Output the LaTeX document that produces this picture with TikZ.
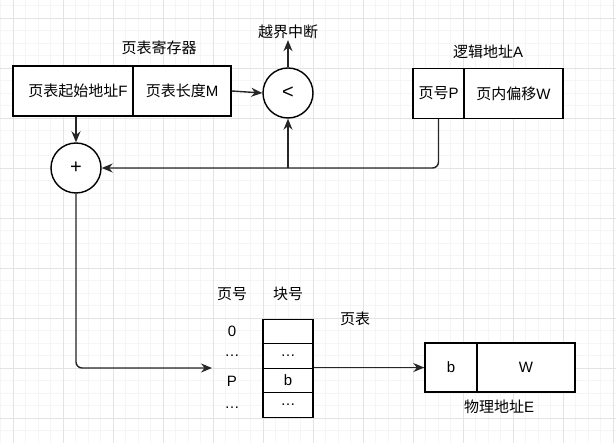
\documentclass[tikz,border=0pt]{standalone}
\usepackage{fontspec}
\setmainfont{Liberation Sans}
\newfontfamily\cjk{Noto Sans CJK SC}
\usetikzlibrary{arrows.meta}
\tikzset{
  cell/.style={draw=black, line width=1.4pt, inner sep=0pt, minimum height=50, fill=white},
  trow/.style={draw=black, line width=1.4pt, inner sep=0pt, minimum width=50, minimum height=24.5, fill=white},
  circ/.style={draw=black, line width=1.4pt, circle, minimum size=50, inner sep=0pt, fill=white},
  lbl/.style={inner sep=1pt},
  arr/.style={draw=black!85, line width=1.4pt, -{Stealth[length=11pt,width=9pt]}},
  ln/.style={draw=black!85, line width=1.4pt}
}
\begin{document}
\begin{tikzpicture}[x=1pt,y=-1pt, font=\fontsize{15}{17}\selectfont]
\useasboundingbox (0,0) rectangle (616,443);
\fill[white] (0,0) rectangle (616,443);
% grid
\foreach \i in {0,...,49}{
  \draw[black!4, line width=0.8pt] (0.5+12.5*\i,0) -- (0.5+12.5*\i,443);
}
\foreach \i in {0,...,35}{
  \draw[black!4, line width=0.8pt] (0,5.5+12.5*\i) -- (616,5.5+12.5*\i);
}
\foreach \i in {0,...,12}{
  \draw[black!11, line width=0.9pt] (13+50*\i,0) -- (13+50*\i,443);
}
\foreach \i in {0,...,8}{
  \draw[black!11, line width=0.9pt] (0,18+50*\i) -- (616,18+50*\i);
}
% page table register
\node[lbl] (regLbl) at (159,48) {\cjk 页表寄存器};
\node[cell, minimum width=120] (regF) at (73,91) {\hspace*{10pt}{\cjk 页表起始地址}F};
\node[cell, minimum width=98] (regM) at (182,91) {{\cjk 页表长度}M};
% comparator
\node[circ] (lt) at (288,93) {\fontsize{20}{22}\selectfont <};
\node[lbl] (ovf) at (288,32) {\cjk 越界中断};
% adder
\node[circ] (plus) at (76,168) {\fontsize{20}{22}\selectfont +};
% logical address
\node[lbl] (laLbl) at (488,52) {{\cjk 逻辑地址}A};
\node[cell, minimum width=51] (laP) at (438.5,93.5) {{\cjk 页号}P};
\node[cell, minimum width=99] (laW) at (513.5,93.5) {{\cjk 页内偏移}W};
% page table
\node[lbl] (hP) at (232,294) {\cjk 页号};
\node[lbl] (hB) at (288,294) {\cjk 块号};
\node[lbl] (ptLbl) at (355,319) {\cjk 页表};
\node[trow] (r0) at (288,331.5) {};
\node[trow] (r1) at (288,356) {…};
\node[trow] (r2) at (288,380.5) {b};
\node[trow] (r3) at (288,405) {…};
\node[lbl] (p0) at (232,331.5) {0};
\node[lbl] (p1) at (232,356) {…};
\node[lbl] (p2) at (232,381) {P};
\node[lbl] (p3) at (232,408) {…};
\coordinate (tin) at (212,368);
% physical address
\node[cell, minimum width=52, minimum height=49] (paB) at (451,367.5) {b};
\node[cell, minimum width=98, minimum height=49] (paW) at (526,367.5) {W};
\node[lbl] (paLbl) at (499,407) {{\cjk 物理地址}E};
% connectors
\draw[arr] (regM.east) -- (lt.west);
\draw[arr] (lt.north) -- (ovf.south);
\draw[arr] (regF.south -| plus.north) -- (plus.north);
\draw[arr, rounded corners=6] (laP.south) |- (plus.east);
\draw[arr] (lt.south |- plus.east) -- (lt.south);
\draw[arr, rounded corners=6] (plus.south) |- (tin);
\draw[arr] (r2.north east) -- (r2.north east -| paB.west);
\end{tikzpicture}
\end{document}
